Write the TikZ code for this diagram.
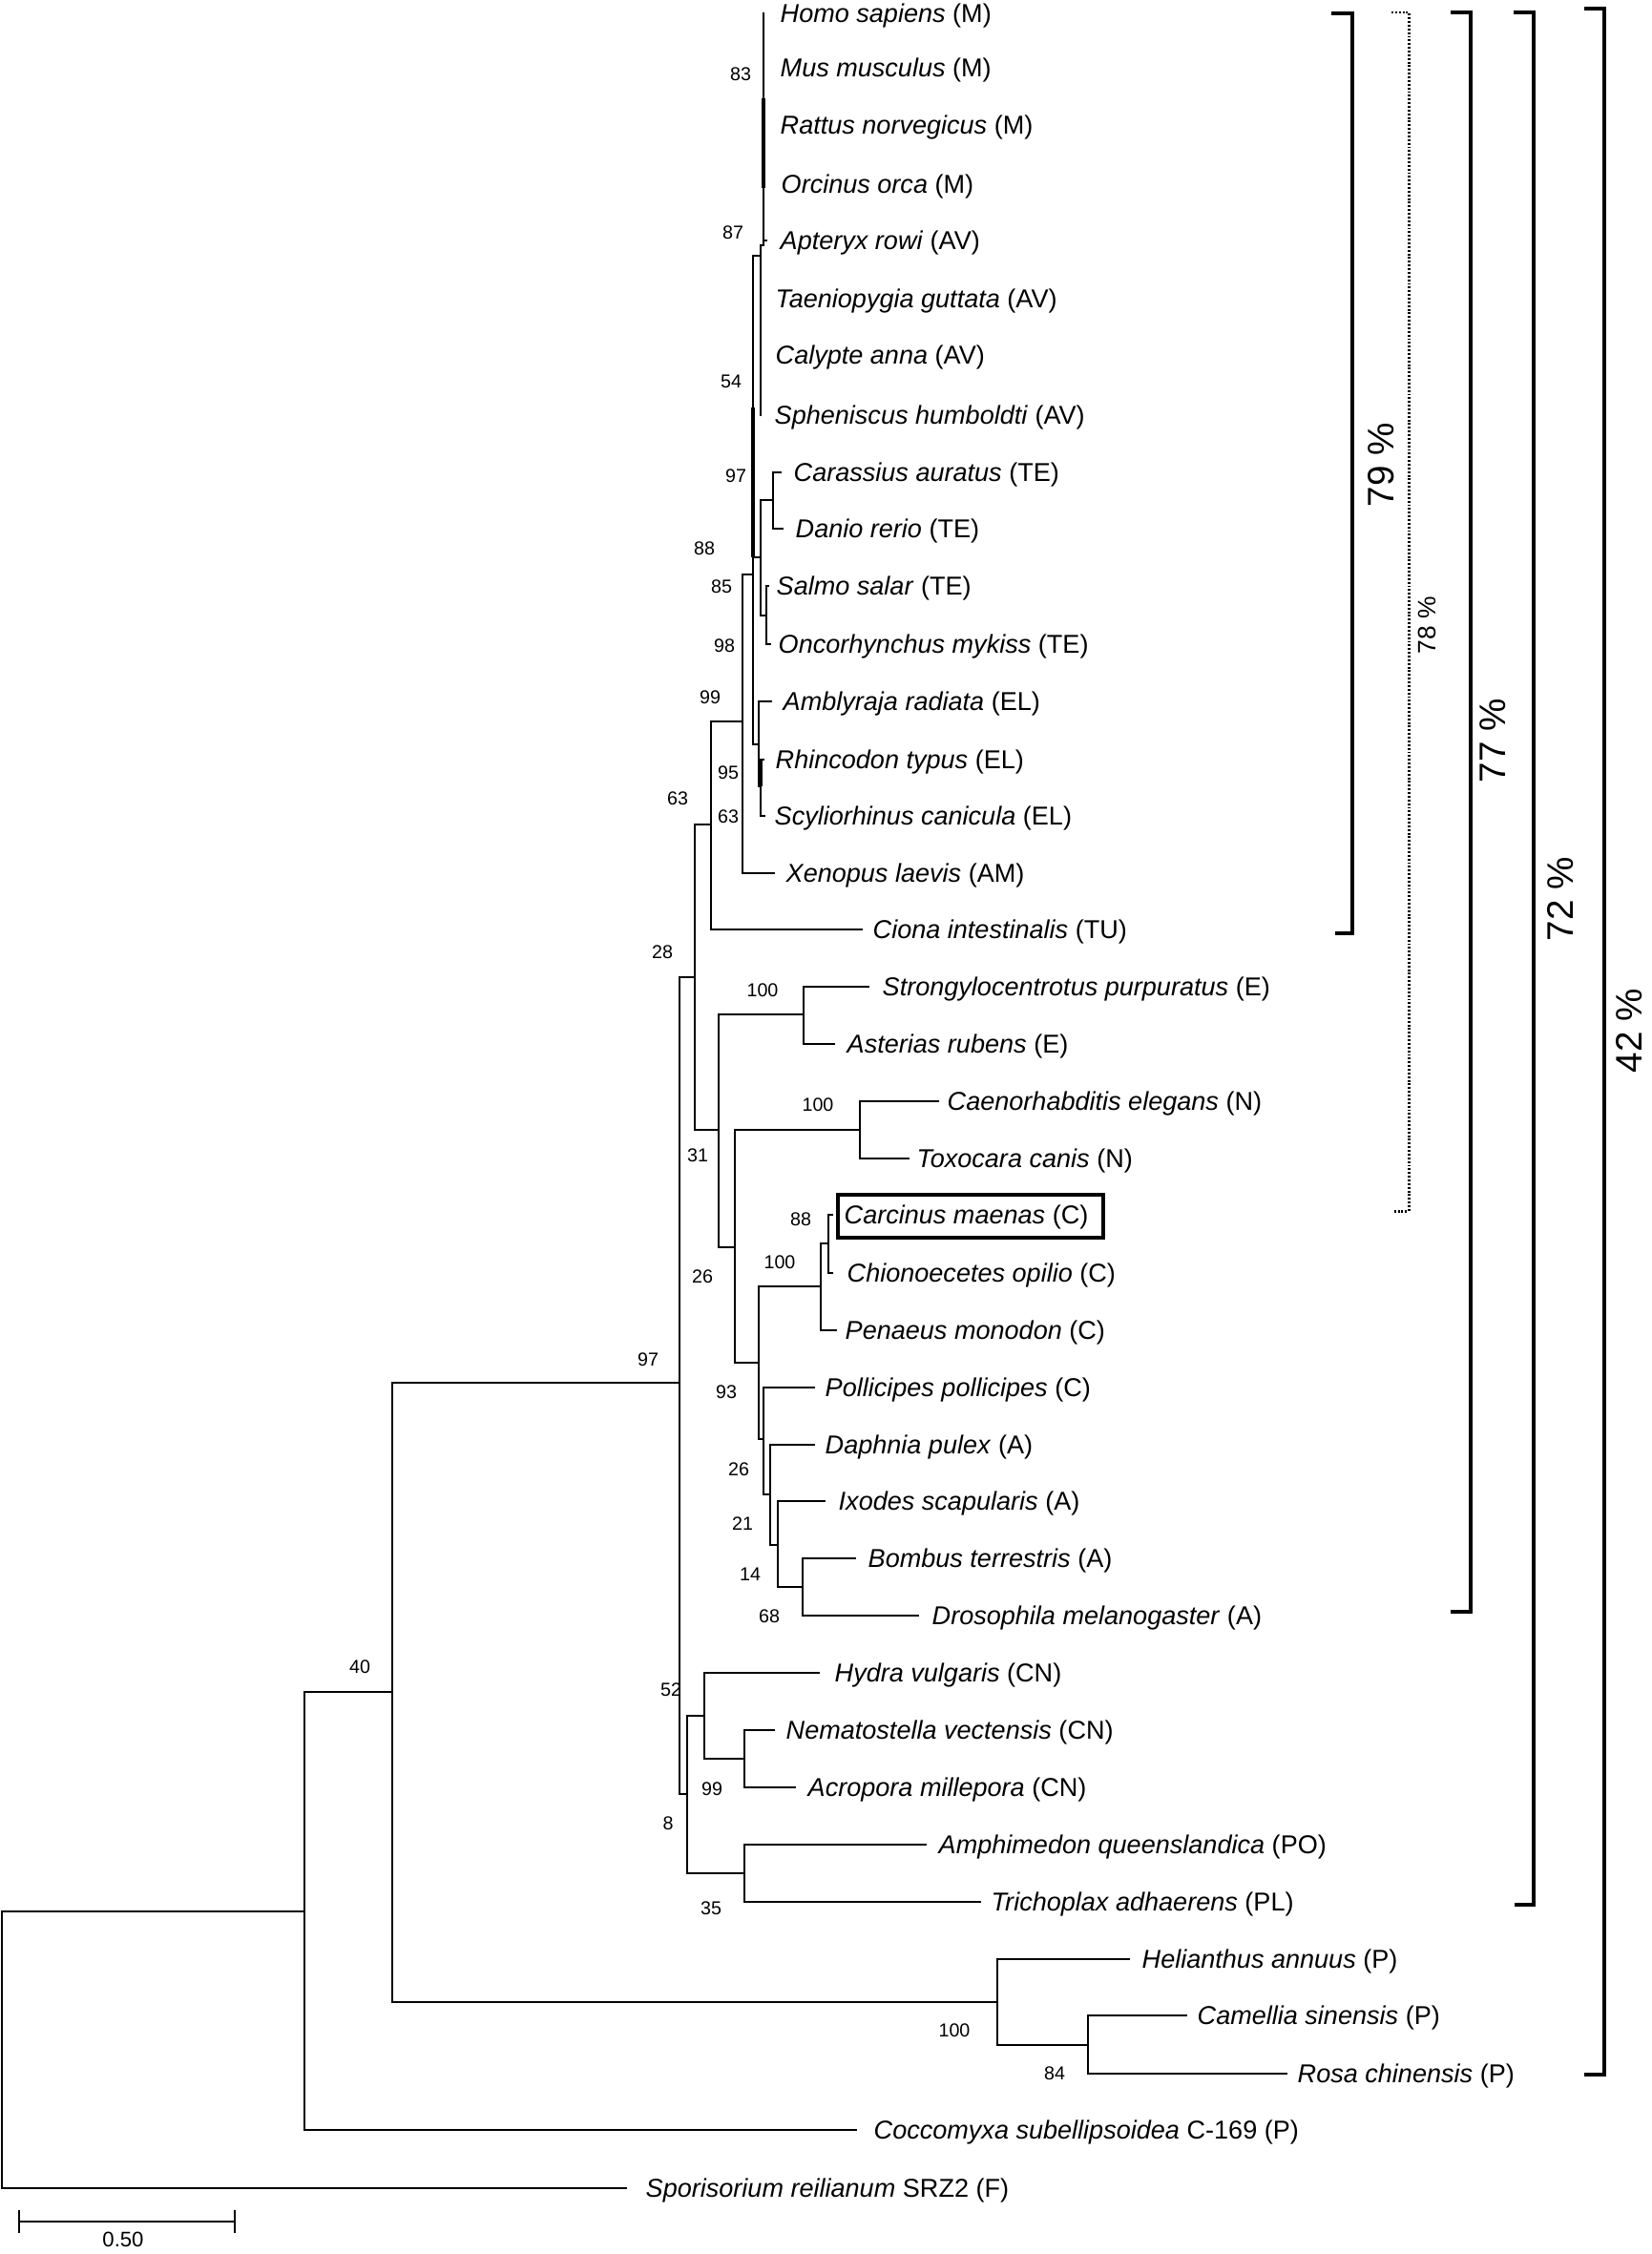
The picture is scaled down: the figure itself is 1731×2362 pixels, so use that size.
\documentclass[tikz,border=0pt]{standalone}
\usepackage{fontspec}
\setmainfont{Liberation Sans}
\newcommand\tclade[3]{\draw[br] (#1 |- #2) -- (#1 |- #3);}
\newcommand\tedge[2]{\draw[br] (#1 |- #2) -- (#2);}
\begin{document}
\begin{tikzpicture}[x=0.1mm,y=-0.1mm,
  br/.style={line width=0.8pt, line cap=rect},
  brk/.style={line width=1.05pt, line cap=rect},
  sp/.style={anchor=west, inner sep=0pt, yshift=-0.25mm, font=\fontsize{7.7}{9}\selectfont},
  bs/.style={inner sep=0pt, font=\fontsize{5.6}{6.5}\selectfont},
  pc/.style={rotate=90, inner sep=0pt, font=\fontsize{11}{13}\selectfont},
  pcs/.style={rotate=90, inner sep=0pt, font=\fontsize{7.5}{9}\selectfont}]
\useasboundingbox (0,0) rectangle (1731,2362);

% ---------- tip coordinates ----------
\coordinate (tHomo) at (800,14);
\coordinate (tMus) at (800,71);
\coordinate (tRat) at (800,131);
\coordinate (tOrc) at (800,193);
\coordinate (tApt) at (803,252);
\coordinate (tTae) at (797,313);
\coordinate (tCal) at (797,372);
\coordinate (tSph) at (797,435);
\coordinate (tCar) at (818,495);
\coordinate (tDan) at (820,554);
\coordinate (tSalmo) at (805,614);
\coordinate (tOnc) at (807,675);
\coordinate (tAmb) at (808,735);
\coordinate (tRhi) at (800,796);
\coordinate (tScy) at (801,855);
\coordinate (tXen) at (811,915);
\coordinate (tCio) at (903,974);
\coordinate (tStr) at (910,1034);
\coordinate (tAst) at (874,1094);
\coordinate (tCae) at (983,1154);
\coordinate (tTox) at (952,1214);
\coordinate (tCarc) at (872,1273);
\coordinate (tChi) at (872,1334);
\coordinate (tPen) at (876,1394);
\coordinate (tPol) at (853,1454);
\coordinate (tDap) at (853,1514);
\coordinate (tIxo) at (864,1573);
\coordinate (tBom) at (896,1633);
\coordinate (tDro) at (962,1693);
\coordinate (tHyd) at (858,1753);
\coordinate (tNema) at (811,1813);
\coordinate (tAcr) at (833,1873);
\coordinate (tAmph) at (970,1933);
\coordinate (tTri) at (1027,1993);
\coordinate (tHel) at (1183,2053);
\coordinate (tCam) at (1243,2112);
\coordinate (tRos) at (1348,2173);
\coordinate (tCoc) at (897,2232);
\coordinate (tSpo) at (656,2293);

% ---------- internal nodes ----------
\coordinate (root) at (2,2150);
\coordinate (n40) at (319,2003);
\coordinate (n97p) at (411,1773);
\coordinate (nPl) at (1045,2098);
\coordinate (n84) at (1140,2143);
\coordinate (nAn) at (712,1449);
\coordinate (n28) at (728,1024);
\coordinate (n8) at (720,1880);
\coordinate (n52) at (738,1798);
\coordinate (n99c) at (780,1843);
\coordinate (n35) at (780,1963);
\coordinate (n63) at (745,864);
\coordinate (n99v) at (778,756);
\coordinate (nV) at (789,602);
\coordinate (nAv) at (797,268);
\coordinate (nMam) at (800,257);
\coordinate (nTel) at (797,584);
\coordinate (nCyp) at (810,524);
\coordinate (nSal) at (803,645);
\coordinate (nEl) at (795,780);
\coordinate (nEl2) at (797,824);
\coordinate (n31) at (753,1184);
\coordinate (nEch) at (842,1063);
\coordinate (n26) at (770,1307);
\coordinate (nNem) at (901,1184);
\coordinate (n93) at (795,1428);
\coordinate (nCr) at (860,1348);
\coordinate (n88) at (868,1303);
\coordinate (nPo) at (800,1508);
\coordinate (n21) at (807,1566);
\coordinate (n14) at (815,1619);
\coordinate (n68) at (841,1663);

% ---------- branches ----------
\tclade{root}{n40}{tSpo} \tedge{root}{n40} \tedge{root}{tSpo}
\tclade{n40}{n97p}{tCoc} \tedge{n40}{n97p} \tedge{n40}{tCoc}
\tclade{n97p}{nAn}{nPl} \tedge{n97p}{nAn} \tedge{n97p}{nPl}
\tclade{nPl}{tHel}{n84} \tedge{nPl}{tHel} \tedge{nPl}{n84}
\tclade{n84}{tCam}{tRos} \tedge{n84}{tCam} \tedge{n84}{tRos}
\tclade{nAn}{n28}{n8} \tedge{nAn}{n28} \tedge{nAn}{n8}
\tclade{n8}{n52}{n35} \tedge{n8}{n52} \tedge{n8}{n35}
\tclade{n52}{tHyd}{n99c} \tedge{n52}{tHyd} \tedge{n52}{n99c}
\tclade{n99c}{tNema}{tAcr} \tedge{n99c}{tNema} \tedge{n99c}{tAcr}
\tclade{n35}{tAmph}{tTri} \tedge{n35}{tAmph} \tedge{n35}{tTri}
\tclade{n28}{n63}{n31} \tedge{n28}{n63} \tedge{n28}{n31}
\tclade{n63}{n99v}{tCio} \tedge{n63}{n99v} \tedge{n63}{tCio}
\tclade{n99v}{nV}{tXen} \tedge{n99v}{nV} \tedge{n99v}{tXen}
\tclade{nV}{nAv}{nEl} \tedge{nV}{nAv} \tedge{nV}{nTel} \tedge{nV}{nEl}
\tclade{nAv}{nMam}{tSph} \tedge{nAv}{nMam}
\tclade{nMam}{tHomo}{nMam} \tedge{nMam}{tApt}
\tclade{nTel}{nCyp}{nSal} \tedge{nTel}{nCyp} \tedge{nTel}{nSal}
\tclade{nCyp}{tCar}{tDan} \tedge{nCyp}{tCar} \tedge{nCyp}{tDan}
\tclade{nSal}{tSalmo}{tOnc} \tedge{nSal}{tSalmo} \tedge{nSal}{tOnc}
\tclade{nEl}{tAmb}{nEl2} \tedge{nEl}{tAmb} \tedge{nEl}{nEl2}
\tclade{nEl2}{tRhi}{tScy} \tedge{nEl2}{tRhi} \tedge{nEl2}{tScy}
\tclade{n31}{nEch}{n26} \tedge{n31}{nEch} \tedge{n31}{n26}
\tclade{nEch}{tStr}{tAst} \tedge{nEch}{tStr} \tedge{nEch}{tAst}
\tclade{n26}{nNem}{n93} \tedge{n26}{nNem} \tedge{n26}{n93}
\tclade{nNem}{tCae}{tTox} \tedge{nNem}{tCae} \tedge{nNem}{tTox}
\tclade{n93}{nCr}{nPo} \tedge{n93}{nCr} \tedge{n93}{nPo}
\tclade{nCr}{n88}{tPen} \tedge{nCr}{n88} \tedge{nCr}{tPen}
\tclade{n88}{tCarc}{tChi} \tedge{n88}{tCarc} \tedge{n88}{tChi}
\tclade{nPo}{tPol}{n21} \tedge{nPo}{tPol} \tedge{nPo}{n21}
\tclade{n21}{tDap}{n14} \tedge{n21}{tDap} \tedge{n21}{n14}
\tclade{n14}{tIxo}{n68} \tedge{n14}{tIxo} \tedge{n14}{n68}
\tclade{n68}{tBom}{tDro} \tedge{n68}{tBom} \tedge{n68}{tDro}
% overlapping short branches drawn heavier
\draw[line width=1.2pt] (800,103) -- (800,197);
\draw[line width=1.2pt] (789,427) -- (789,584);
\draw[line width=1.15pt] (797,796) -- (797,824);

% ---------- tip labels ----------
\node[sp] (lHomo) at (817,14) {\textit{Homo sapiens} (M)};
\node[sp] (lMus) at (817,71) {\textit{Mus musculus} (M)};
\node[sp] (lRat) at (817,131) {\textit{Rattus norvegicus} (M)};
\node[sp] (lOrc) at (818,193) {\textit{Orcinus orca} (M)};
\node[sp] (lApt) at (817,252) {\textit{Apteryx rowi} (AV)};
\node[sp] (lTae) at (812,313) {\textit{Taeniopygia guttata} (AV)};
\node[sp] (lCal) at (812,372) {\textit{Calypte anna} (AV)};
\node[sp] (lSph) at (811,435) {\textit{Spheniscus humboldti} (AV)};
\node[sp] (lCar) at (831,495) {\textit{Carassius auratus} (TE)};
\node[sp] (lDan) at (833,554) {\textit{Danio rerio} (TE)};
\node[sp] (lSalmo) at (813,614) {\textit{Salmo salar} (TE)};
\node[sp] (lOnc) at (815,675) {\textit{Oncorhynchus mykiss} (TE)};
\node[sp] (lAmb) at (820,735) {\textit{Amblyraja radiata} (EL)};
\node[sp] (lRhi) at (812,796) {\textit{Rhincodon typus} (EL)};
\node[sp] (lScy) at (811,855) {\textit{Scyliorhinus canicula} (EL)};
\node[sp] (lXen) at (823,915) {\textit{Xenopus laevis} (AM)};
\node[sp] (lCio) at (914,974) {\textit{Ciona intestinalis} (TU)};
\node[sp] (lStr) at (924,1034) {\textit{Strongylocentrotus purpuratus} (E)};
\node[sp] (lAst) at (887,1094) {\textit{Asterias rubens} (E)};
\node[sp] (lCae) at (992,1154) {\textit{Caenorhabditis elegans} (N)};
\node[sp] (lTox) at (960,1214) {\textit{Toxocara canis} (N)};
\node[sp] (lCarc) at (884,1273) {\textit{Carcinus maenas} (C)};
\node[sp] (lChi) at (887,1334) {\textit{Chionoecetes opilio} (C)};
\node[sp] (lPen) at (885,1394) {\textit{Penaeus monodon} (C)};
\node[sp] (lPol) at (864,1454) {\textit{Pollicipes pollicipes} (C)};
\node[sp] (lDap) at (864,1514) {\textit{Daphnia pulex} (A)};
\node[sp] (lIxo) at (878,1573) {\textit{Ixodes scapularis} (A)};
\node[sp] (lBom) at (909,1633) {\textit{Bombus terrestris} (A)};
\node[sp] (lDro) at (976,1693) {\textit{Drosophila melanogaster} (A)};
\node[sp] (lHyd) at (874,1753) {\textit{Hydra vulgaris} (CN)};
\node[sp] (lNema) at (823,1813) {\textit{Nematostella vectensis} (CN)};
\node[sp] (lAcr) at (846,1873) {\textit{Acropora millepora} (CN)};
\node[sp] (lAmph) at (983,1933) {\textit{Amphimedon queenslandica} (PO)};
\node[sp] (lTri) at (1038,1993) {\textit{Trichoplax adhaerens} (PL)};
\node[sp] (lHel) at (1196,2053) {\textit{Helianthus annuus} (P)};
\node[sp] (lCam) at (1254,2112) {\textit{Camellia sinensis} (P)};
\node[sp] (lRos) at (1359,2173) {\textit{Rosa chinensis} (P)};
\node[sp] (lCoc) at (915,2232) {\textit{Coccomyxa subellipsoidea} C-169 (P)};
\node[sp] (lSpo) at (676,2293) {\textit{Sporisorium reilianum} SRZ2 (F)};
\draw[line width=0.9pt] (878,1252) rectangle (1156,1297);

% ---------- bootstrap values ----------
\node[bs] (b83) at (776,78) {83};
\node[bs] (b87) at (768,244) {87};
\node[bs] (b54) at (766,400) {54};
\node[bs] (b97a) at (771,499) {97};
\node[bs] (b88a) at (738,575) {88};
\node[bs] (b85) at (756,615) {85};
\node[bs] (b98) at (759,677) {98};
\node[bs] (b99a) at (744,731) {99};
\node[bs] (b95) at (763,810) {95};
\node[bs] (b63a) at (763,856) {63};
\node[bs] (b63b) at (710,837) {63};
\node[bs] (b28) at (694,998) {28};
\node[bs] (b100a) at (799,1038) {100};
\node[bs] (b100b) at (857,1158) {100};
\node[bs] (b31) at (731,1211) {31};
\node[bs] (b88b) at (839,1278) {88};
\node[bs] (b100c) at (817,1323) {100};
\node[bs] (b26a) at (736,1338) {26};
\node[bs] (b97b) at (679,1425) {97};
\node[bs] (b93) at (761,1459) {93};
\node[bs] (b26b) at (774,1540) {26};
\node[bs] (b21) at (778,1597) {21};
\node[bs] (b14) at (786,1650) {14};
\node[bs] (b68) at (806,1694) {68};
\node[bs] (b52) at (703,1771) {52};
\node[bs] (b99b) at (746,1875) {99};
\node[bs] (b8) at (700,1911) {8};
\node[bs] (b35) at (745,2000) {35};
\node[bs] (b40) at (377,1747) {40};
\node[bs] (b100d) at (1000,2128) {100};
\node[bs] (b84) at (1105,2173) {84};

% ---------- identity brackets ----------
\draw[brk] (1397,14) -- (1417,14) -- (1417,978) -- (1401,978);
\draw[line width=0.85pt, dash pattern=on 0.55pt off 0.55pt] (1458,13) -- (1476,13) -- (1476,1269) -- (1460,1269);
\draw[brk] (1522,13) -- (1541,13) -- (1541,1689) -- (1522,1689);
\draw[brk] (1588,13) -- (1607,13) -- (1607,1996) -- (1589,1996);
\draw[brk] (1662,9) -- (1681,9) -- (1681,2174) -- (1662,2174);
\node[pc] (p79) at (1447,487) {79 \%};
\node[pcs] (p78) at (1495,655) {78 \%};
\node[pc] (p77) at (1564,776) {77 \%};
\node[pc] (p72) at (1635,942) {72 \%};
\node[pc] (p42) at (1707,1080) {42 \%};

% ---------- scale bar ----------
\draw[br] (20,2328) -- (246,2328);
\draw[br] (20,2317) -- (20,2339);
\draw[br] (246,2317) -- (246,2339);
\node[inner sep=0pt, font=\fontsize{6.3}{7.5}\selectfont] (scale) at (129,2347) {0.50};
\end{tikzpicture}
\end{document}
